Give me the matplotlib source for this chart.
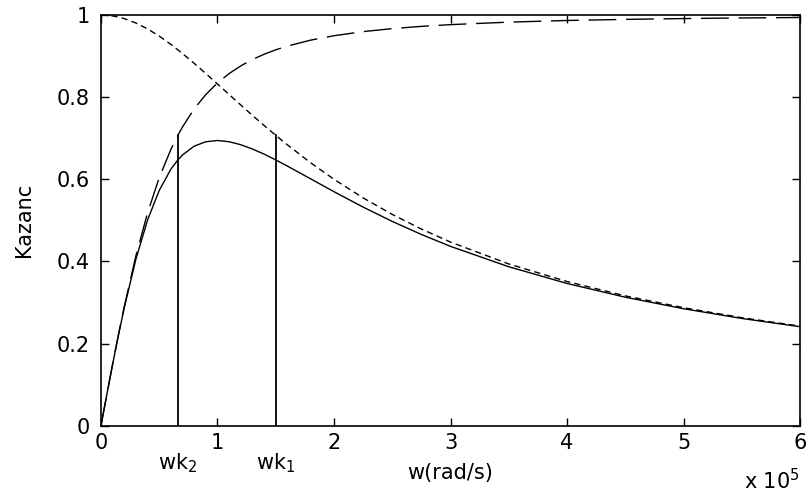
import matplotlib
matplotlib.use("Agg")
import matplotlib.pyplot as plt

plt.rcParams['font.family'] = ['DejaVu Sans']
plt.rcParams['mathtext.fontset'] = 'dejavusans'

# angular frequency, in units of 1e5 rad/s
w = [0.0, 0.05, 0.1, 0.15, 0.2, 0.3, 0.4, 0.5, 0.6, 0.66, 0.7, 0.8, 0.9, 1.0,
     1.1, 1.2, 1.3, 1.4, 1.5, 1.6, 1.8, 2.0, 2.25, 2.5, 2.75, 3.0, 3.5, 4.0,
     4.5, 5.0, 5.5, 6.0]

# low-pass response (short dashes)
low_pass = [1.0, 0.9995, 0.9978, 0.9950, 0.9912, 0.9806, 0.9662, 0.9487, 0.9285,
            0.9153, 0.9062, 0.8824, 0.8575, 0.8321, 0.8064, 0.7809, 0.7557,
            0.7311, 0.7071, 0.6839, 0.6402, 0.6000, 0.5547, 0.5145, 0.4789,
            0.4472, 0.3939, 0.3511, 0.3162, 0.2874, 0.2631, 0.2425]

# high-pass response (long dashes)
high_pass = [0.0, 0.0755, 0.1498, 0.2216, 0.2900, 0.4138, 0.5183, 0.6039, 0.6727,
             0.7071, 0.7276, 0.7714, 0.8064, 0.8346, 0.8575, 0.8762, 0.8917,
             0.9045, 0.9153, 0.9244, 0.9389, 0.9496, 0.9596, 0.9669, 0.9724,
             0.9766, 0.9827, 0.9867, 0.9894, 0.9914, 0.9929, 0.9940]

# band-pass gain (solid)
band_pass = [0.0, 0.0755, 0.1495, 0.2205, 0.2875, 0.4058, 0.5008, 0.5729, 0.6246,
             0.6472, 0.6593, 0.6807, 0.6915, 0.6945, 0.6915, 0.6842, 0.6738,
             0.6613, 0.6472, 0.6322, 0.6011, 0.5698, 0.5323, 0.4975, 0.4657,
             0.4367, 0.3871, 0.3464, 0.3129, 0.2849, 0.2612, 0.2411]

# cutoff frequencies (1e5 rad/s) and their -3 dB level
cutoff_w = [0.66, 1.5]
cutoff_names = ['wk$_2$', 'wk$_1$']
cutoff_level = 0.707

x_ticks = [0, 1, 2, 3, 4, 5, 6]
y_ticks = [0, 0.2, 0.4, 0.6, 0.8, 1.0]
y_tick_labels = ['0', '0.2', '0.4', '0.6', '0.8', '1']

fs = 15

fig = plt.figure(figsize=(8.11, 4.96), dpi=100)
ax = fig.add_axes([0.1245, 0.1417, 0.862, 0.828])

lw = 1.0
ax.plot(w, low_pass, color='black', lw=lw, linestyle=(0, (4.5, 3)))
ax.plot(w, high_pass, color='black', lw=lw, linestyle=(0, (20, 7)))
ax.plot(w, band_pass, color='black', lw=lw)
for xc in cutoff_w:
    ax.plot([xc, xc], [0, cutoff_level], color='black', lw=1.3)

ax.set_xlim(0, 6)
ax.set_ylim(0, 1)
ax.set_xticks(x_ticks)
ax.set_yticks(y_ticks)
ax.set_yticklabels(y_tick_labels)
ax.tick_params(direction='in', length=6, width=1, labelsize=fs,
               top=True, right=True)
ax.tick_params(axis='x', pad=5)
ax.tick_params(axis='y', pad=8)
for s in ax.spines.values():
    s.set_linewidth(1.2)

ax.set_ylabel('Kazanc', fontsize=fs, labelpad=16)

for xc, name in zip(cutoff_w, cutoff_names):
    ax.text(xc, -0.063, name, fontsize=fs, ha='center', va='top')

ax.text(3.0, -0.09, 'w(rad/s)', fontsize=fs, ha='center', va='top')
ax.text(6.0, -0.103, 'x 10$^5$', fontsize=fs, ha='right', va='top')

fig.savefig('out.png', dpi=100)
